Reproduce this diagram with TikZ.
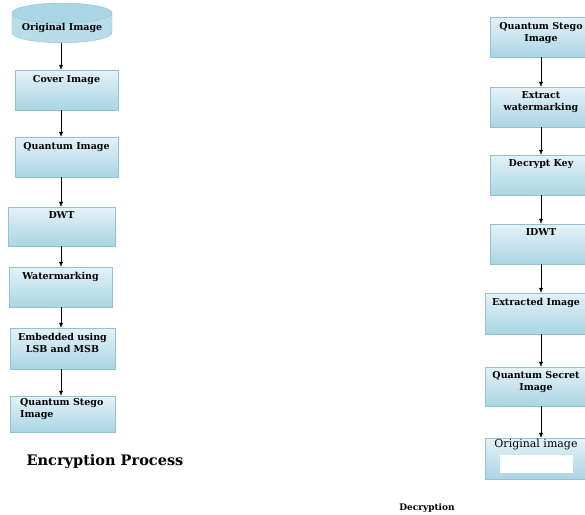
\documentclass[tikz,border=0pt]{standalone}
\usepackage{fontspec}
\setmainfont{DejaVu Serif}
\usetikzlibrary{shapes.geometric,arrows.meta}
\definecolor{boxlight}{RGB}{228,242,248}
\definecolor{boxdark}{RGB}{170,213,228}
\definecolor{boxline}{RGB}{146,193,210}
\begin{document}
\begin{tikzpicture}[
        x=1pt,y=-1pt,
        stepbox/.style={draw=boxline,thin,top color=boxlight,bottom color=boxdark,
            minimum width=103pt,minimum height=40pt,inner sep=0pt},
        boxtext/.style={font=\bfseries\fontsize{9.5}{12}\selectfont,align=center,
            anchor=north,inner sep=0pt},
        >={Latex[length=5pt,width=4pt]},line cap=round,line join=round
    ]
    \useasboundingbox (0,0) rectangle (585,514);
    \coordinate (lx) at (61,0);
    \coordinate (rx) at (541,0);

    % encryption
    \node[cylinder,shape border rotate=90,aspect=0.25,draw=boxline,thin,
        cylinder uses custom fill,cylinder body fill=boxdark!75!boxlight,
        cylinder end fill=boxdark,minimum width=100pt,minimum height=32pt,
        inner sep=0pt,font=\bfseries\fontsize{9.5}{12}\selectfont]
        (orig) at (62,28) {Original Image};
    \node[stepbox] (cover) at (66.5,90) {};
    \node[boxtext] (cover-t) at ([yshift=-5pt]cover.north) {Cover Image};
    \node[stepbox] (qimg) at (66.5,157) {};
    \node[boxtext] (qimg-t) at ([yshift=-5pt]qimg.north) {Quantum Image};
    \node[stepbox,minimum width=107pt,minimum height=39pt] (dwt) at (61.5,226.5) {};
    \node[boxtext] (dwt-t) at ([yshift=-5pt]dwt.north) {DWT};
    \node[stepbox] (wm) at (60.5,287) {};
    \node[boxtext] (wm-t) at ([yshift=-5pt]wm.north) {Watermarking};
    \node[stepbox,minimum width=105pt,minimum height=41pt] (emb) at (62.5,348.5) {};
    \node[boxtext] (emb-t) at ([yshift=-5pt]emb.north) {Embedded using\\LSB and MSB};
    \node[stepbox,minimum width=105pt,minimum height=36pt] (qstego) at (62.5,414) {};
    \node[boxtext,anchor=north west,align=left] (qstego-t) at (20,398) {Quantum Stego\\Image};
    \node[font=\bfseries\fontsize{14.5}{17}\selectfont] (enc) at (105,462) {Encryption Process};

    \draw[->] (orig.south -| lx) -- (cover.north -| lx);
    \draw[->] (cover.south -| lx) -- (qimg.north -| lx);
    \draw[->] (qimg.south -| lx) -- (dwt.north -| lx);
    \draw[->] (dwt.south -| lx) -- (wm.north -| lx);
    \draw[->] (wm.south -| lx) -- (emb.north -| lx);
    \draw[->] (emb.south -| lx) -- (qstego.north -| lx);

    % decryption
    \node[stepbox,minimum width=102pt] (rqs) at (541,37) {};
    \node[boxtext] (rqs-t) at ([yshift=-5pt]rqs.north) {Quantum Stego\\Image};
    \node[stepbox,minimum width=102pt] (rext) at (541,107) {};
    \node[boxtext] (rext-t) at ([yshift=-5pt]rext.north) {Extract\\watermarking};
    \node[stepbox,minimum width=102pt] (rkey) at (541,175) {};
    \node[boxtext] (rkey-t) at ([yshift=-5pt]rkey.north) {Decrypt Key};
    \node[stepbox,minimum width=102pt] (ridwt) at (541,244) {};
    \node[boxtext] (ridwt-t) at ([yshift=-5pt]ridwt.north) {IDWT};
    \node[stepbox,minimum width=102pt,minimum height=41pt] (rext-img) at (536,313.5) {};
    \node[boxtext] (rext-img-t) at ([yshift=-5pt]rext-img.north) {Extracted Image};
    \node[stepbox,minimum width=102pt,minimum height=39pt] (rsec) at (536,386.5) {};
    \node[boxtext] (rsec-t) at ([yshift=-4pt]rsec.north) {Quantum Secret\\Image};
    \node[stepbox,minimum width=102pt,minimum height=41pt] (rorig) at (536,458.5) {};
    \node[fill=white,minimum width=73pt,minimum height=18pt,inner sep=0pt] (rorig-w) at (536.5,464) {};
    \node[boxtext,font=\fontsize{11}{13}\selectfont] (rorig-t) at ([yshift=-1pt]rorig.north) {Original image};
    \node[font=\bfseries\fontsize{9}{11}\selectfont] (dec) at (427,508) {Decryption};

    \draw[->] (rqs.south -| rx) -- (rext.north -| rx);
    \draw[->] (rext.south -| rx) -- (rkey.north -| rx);
    \draw[->] (rkey.south -| rx) -- (ridwt.north -| rx);
    \draw[->] (ridwt.south -| rx) -- (rext-img.north -| rx);
    \draw[->] (rext-img.south -| rx) -- (rsec.north -| rx);
    \draw[->] (rsec.south -| rx) -- (rorig.north -| rx);
\end{tikzpicture}
\end{document}
